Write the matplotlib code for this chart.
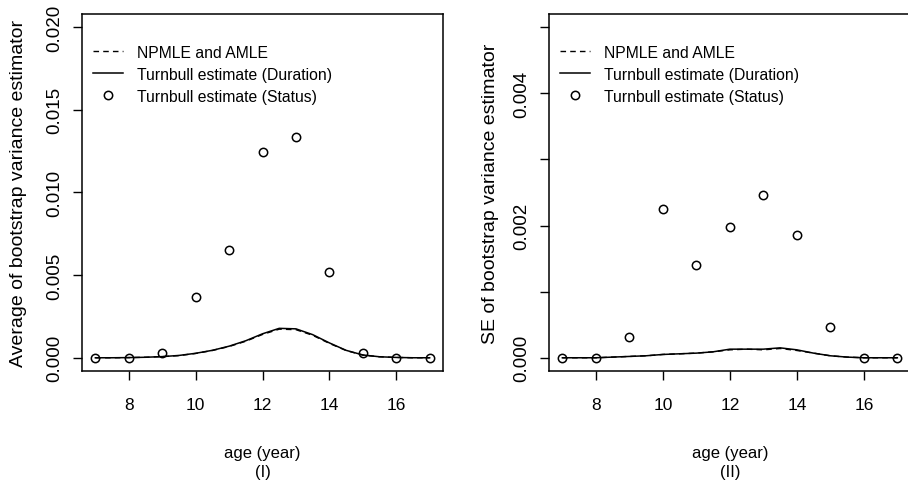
import matplotlib
matplotlib.use("Agg")
import matplotlib.pyplot as plt
from matplotlib.lines import Line2D

# ---- data ----
ages = [7, 8, 9, 10, 11, 12, 13, 14, 15, 16, 17]
grid = [7, 7.5, 8, 8.5, 9, 9.5, 10, 10.5, 11, 11.5, 12, 12.5, 13, 13.5, 14,
        14.5, 15, 15.5, 16, 16.5, 17]

# Panel (I): average of bootstrap variance estimator
avg_status = [0.0, 0.0, 0.0003, 0.0037, 0.00655, 0.01243, 0.01333, 0.00518, 0.0003, 0.0, 0.0]
avg_duration = [0, 0, 0.00001, 0.00003, 0.00007, 0.00014, 0.00027, 0.00045, 0.0007, 0.00103,
                0.00145, 0.00178, 0.00175, 0.0014, 0.0009, 0.00045, 0.00017, 0.00006,
                0.00002, 0, 0]
avg_npmle = [0, 0, 0.00001, 0.00003, 0.00007, 0.00013, 0.00026, 0.00044, 0.00068, 0.001,
             0.00141, 0.00173, 0.0017, 0.00136, 0.00087, 0.00044, 0.00016, 0.00006,
             0.00002, 0, 0]

# Panel (II): SE of bootstrap variance estimator
se_status = [0.0, 0.0, 0.00032, 0.00225, 0.0014, 0.00198, 0.00246, 0.00186, 0.00046, 0.0, 0.0]
se_duration = [0, 0, 0, 0.00001, 0.00002, 0.00003, 0.00005, 0.00006, 0.00007, 0.00009,
               0.00013, 0.00013, 0.00013, 0.00015, 0.00012, 0.00007, 0.00003, 0.00001,
               0, 0, 0]
se_npmle = [0, 0, 0, 0.00001, 0.00002, 0.00003, 0.00005, 0.00006, 0.00007, 0.00009,
            0.00012, 0.00013, 0.00012, 0.00014, 0.00011, 0.00007, 0.00003, 0.00001,
            0, 0, 0]

xticks = [8, 10, 12, 14, 16]
legend_labels = ["NPMLE and AMLE", "Turnbull estimate (Duration)", "Turnbull estimate (Status)"]

REG = ["Liberation Sans", "DejaVu Sans"]

fig = plt.figure(figsize=(9.08, 4.89), dpi=100)
ax1 = fig.add_axes([0.0903, 0.2393, 0.3976, 0.7300])
ax2 = fig.add_axes([0.6046, 0.2393, 0.3984, 0.7300])

panels = [
    (ax1, avg_npmle, avg_duration, avg_status, (-0.0008, 0.0208),
     [0, 0.005, 0.010, 0.015, 0.020], ["0.000", "0.005", "0.010", "0.015", "0.020"],
     "Average of bootstrap variance estimator", "(I)", 14),
    (ax2, se_npmle, se_duration, se_status, (-0.0002, 0.0052),
     [0, 0.001, 0.002, 0.003, 0.004, 0.005], ["0.000", "", "0.002", "", "0.004", ""],
     "SE of bootstrap variance estimator", "(II)", 10),
]

for ax, npm, dur, stat, ylim, yt, ytl, ylab, tag, lpad in panels:
    ax.plot(grid, npm, color="black", lw=1.0, ls=(0, (4, 3)))
    ax.plot(grid, dur, color="black", lw=1.1)
    ax.plot(ages, stat, ls="none", marker="o", ms=6, mfc="none", mec="black", mew=1.1)
    ax.set_xlim(6.6, 17.4)
    ax.set_ylim(*ylim)
    ax.set_xticks(xticks)
    ax.set_xticklabels([str(t) for t in xticks], fontfamily=REG, fontsize=12.5)
    ax.set_yticks(yt)
    ax.set_yticklabels(ytl, fontfamily=REG, fontsize=13.5, rotation=90, va="center")
    ax.tick_params(axis="x", length=6.5, width=1, pad=12, direction="out")
    ax.tick_params(axis="y", length=6.5, width=1, pad=7, direction="out")
    for s in ax.spines.values():
        s.set_linewidth(1.1)
    ax.set_ylabel(ylab, fontfamily=REG, fontsize=14, labelpad=lpad)
    ax.set_xlabel("age (year)\n" + tag, fontfamily=REG, fontsize=12, labelpad=24,
                  linespacing=1.35)
    handles = [Line2D([], [], color="black", lw=1.0, ls=(0, (4, 3))),
               Line2D([], [], color="black", lw=1.1),
               Line2D([], [], ls="none", marker="o", ms=6, mfc="none", mec="black", mew=1.1)]
    ax.legend(handles, legend_labels, loc="upper left", bbox_to_anchor=(0.0, 0.945),
              frameon=False, prop={"family": REG, "size": 11.3},
              handlelength=1.9, handletextpad=0.9, labelspacing=0.45, borderaxespad=0.3)

fig.savefig("out.png", dpi=100)
